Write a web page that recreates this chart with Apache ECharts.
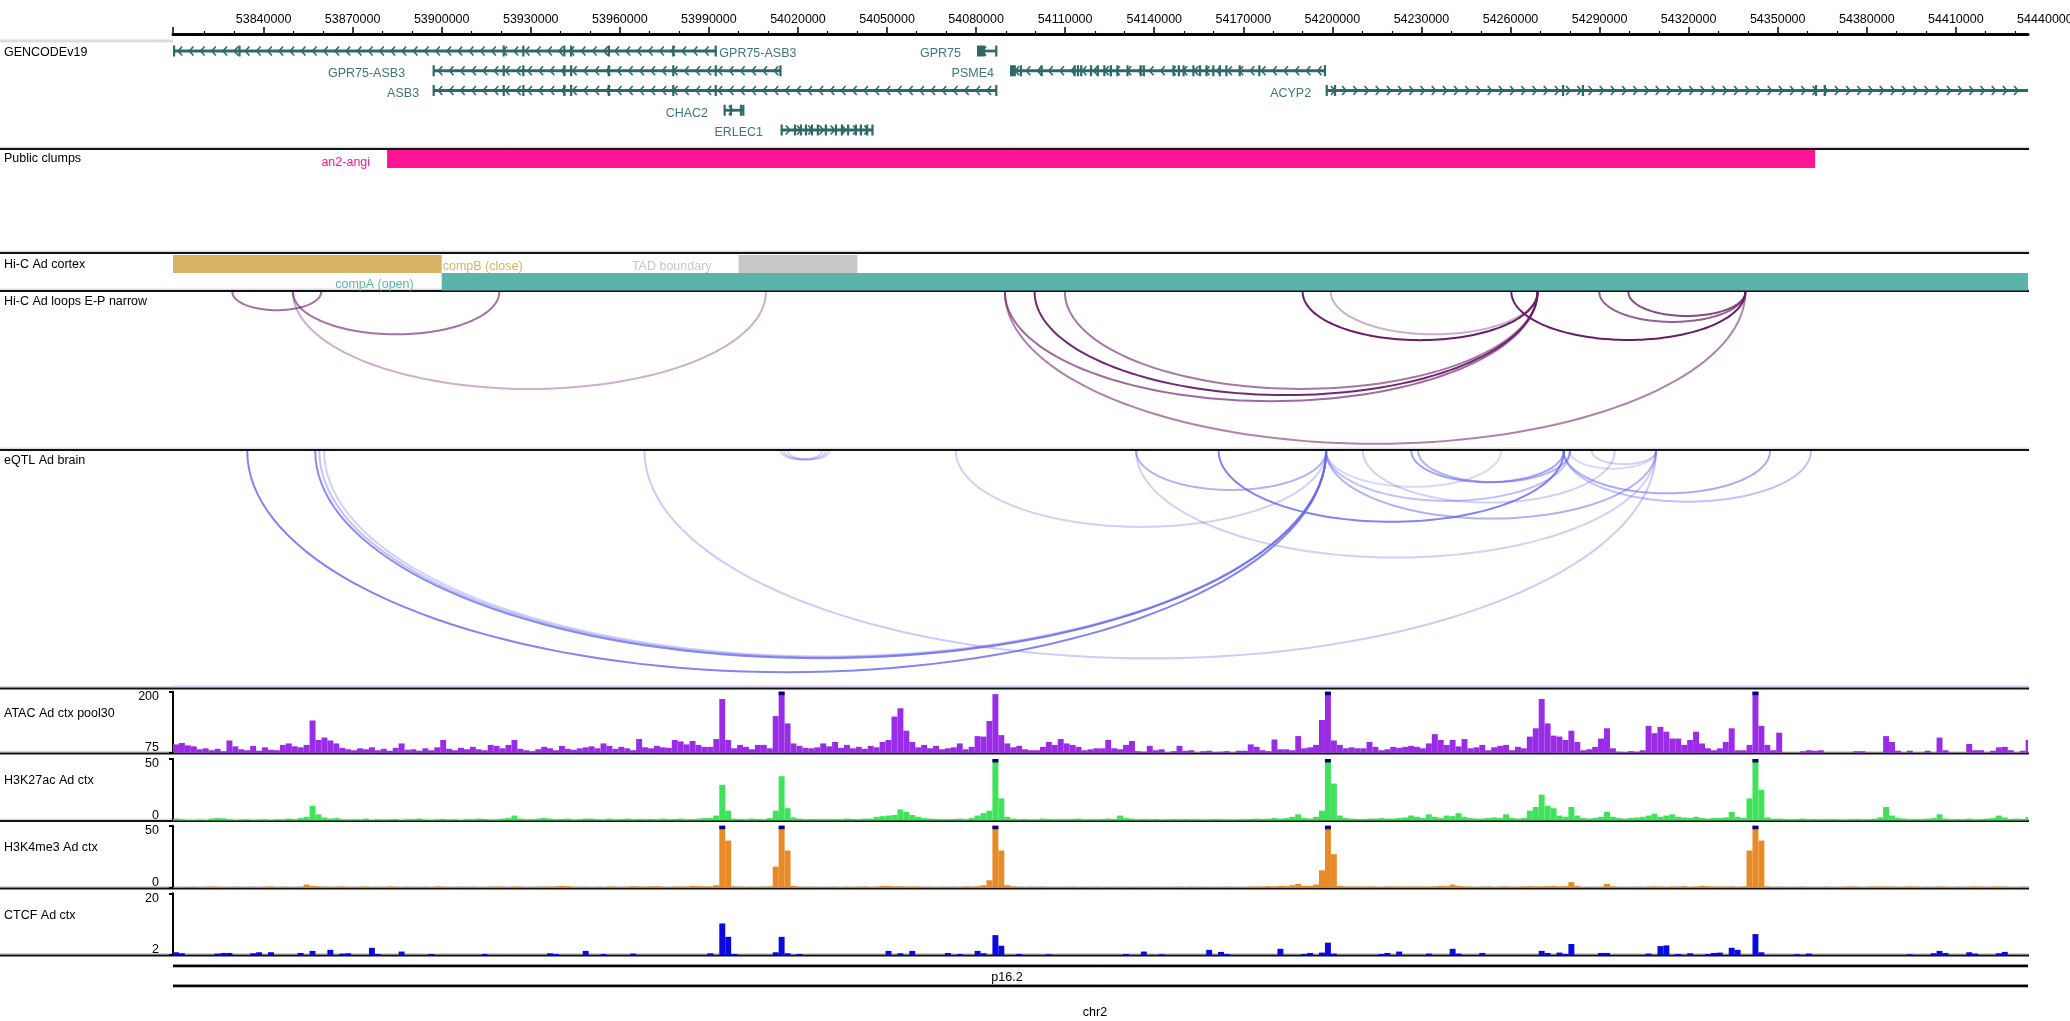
<!DOCTYPE html>
<html><head><meta charset="utf-8">
<script src="https://cdn.jsdelivr.net/npm/echarts@6.0.0/dist/echarts.min.js"></script>
<style>html,body{margin:0;padding:0;background:#fff}#c{width:2070px;height:1021px}</style>
</head><body><div id="c"></div>
<script>
// ---------------- DATA ----------------
const X_MIN = 53809500, X_MAX = 54434300, X_LABEL_MAX = 54440000;
const MAJOR_TICK_LABELS = [53840000,53870000,53900000,53930000,53960000,53990000,54020000,54050000,54080000,54110000,54140000,54170000,54200000,54230000,54260000,54290000,54320000,54350000,54380000,54410000,54440000];

const GENE_NAMES   = ['GPR75-ASB3','GPR75','GPR75-ASB3','PSME4','ASB3','ACYP2','CHAC2','ERLEC1'];
const GENE_STARTS  = [53805000,54080300,53897100,54091400,53897100,54197900,53995100,54014300];
const GENE_ENDS    = [53992500,54087000,54014300,54197700,54087000,54445000,54001800,54045300];
const GENE_ROWS    = [0,0,1,1,2,2,3,4];
const GENE_STRANDS = [-1,-1,-1,-1,-1,1,1,1];
const GENE_EXONS = [
 [[53809600,53810000],[53831700,53832100],[53920700,53921100],[53927300,53927700],[53941100,53941500],[53943400,53943800],[53955900,53956700],[53977800,53978200],[53992100,53992500]],
 [[54080300,54083000],[54086600,54087000]],
 [[53897100,53897500],[53920700,53921100],[53927300,53927700],[53941100,53941500],[53943400,53943800],[53955900,53956700],[53977800,53978200],[53992100,53992500],[54013900,54014300]],
 [[54091400,54093400],[54094900,54095300],[54101900,54102300],[54113000,54113400],[54114100,54114500],[54115200,54115600],[54118500,54118900],[54120800,54121200],[54123000,54123400],[54125200,54125600],[54127400,54127800],[54130800,54131200],[54135200,54135600],[54136300,54136700],[54146300,54146700],[54148100,54148500],[54149700,54150100],[54153000,54153400],[54155200,54155600],[54157400,54157800],[54159700,54160100],[54161900,54162300],[54164100,54164500],[54168600,54169000],[54175200,54175600],[54197300,54197700]],
 [[53897100,53897500],[53920700,53921100],[53927300,53927700],[53941100,53941500],[53943400,53943800],[53955900,53956700],[53977800,53978200],[53992100,53992500],[54086600,54087000]],
 [[54197900,54198300],[54200700,54201100],[54277500,54277900],[54284200,54284600],[54362700,54363100],[54365700,54366100]],
 [[53995100,53995500],[53997200,53997600],[54000600,54001000],[54001400,54001800]],
 [[54014300,54014700],[54018800,54019200],[54020800,54021200],[54022500,54022900],[54024500,54024900],[54026500,54026900],[54029200,54029600],[54032600,54033000],[54034600,54035000],[54036700,54037100],[54039300,54039700],[54041000,54041400],[54043100,54043500],[54044900,54045300]]
];

const CLUMP_NAMES = ['an2-angi'];
const CLUMP_STARTS = [53881600];
const CLUMP_ENDS = [54362600];

const COMP_NAMES = ['compB (close)','compA (open)'];
const COMP_STARTS = [53800000, 53900000];
const COMP_ENDS = [53900000, 54450000];
const TAD_STARTS = [54000000];
const TAD_ENDS = [54040000];

// Hi-C loops: start, end, opacity
const LOOP_STARTS = [53829500,53849900,53849900,54190000,54199500,54260300,54289900,54299700,54089700,54089700,54099700,54109900];
const LOOP_ENDS   = [53859400,53919400,54009200,54269100,54269100,54339100,54339100,54339100,54339100,54269100,54269100,54269100];
const LOOP_ALPHA  = [0.62,0.62,0.35,1.0,0.35,1.0,0.7,0.8,0.55,0.65,0.95,0.6];

// eQTL links: start, end, opacity
const EQTL_STARTS = [53834500,53857400,53858800,53860400,53968300,54014300,54015300,54016600,54073200,54133900,54161700,54226600,54228900,54197900,54197900,54197900,54210300,54133900,54277900,54277900,54287400,54280000];
const EQTL_ENDS   = [54197900,54197900,54197900,54197900,54309000,54028100,54029400,54030500,54197900,54197900,54278000,54277900,54280000,54256800,54280000,54309000,54295100,54309000,54347400,54361200,54309000,54309000];
const EQTL_ALPHA  = [0.8,0.75,0.4,0.3,0.33,0.3,0.3,0.3,0.3,0.5,0.8,0.6,0.5,0.25,0.4,0.5,0.3,0.3,0.55,0.4,0.3,0.25];

// Signal tracks: 2 kb bins from BIN_START
const BIN_START = 53809500, BIN_SIZE = 2000;
const ATAC = [
 92,95,90,88,82,84,80,83,78,100, 88,82,80,89,79,86,81,80,91,94, 88,86,91,141,101,106,100,94,85,82,
 80,84,82,86,80,83,79,85,94,81, 82,79,84,80,86,101,83,80,85,82, 87,82,80,91,89,84,91,101,83,80,
 78,82,87,84,80,89,83,81,84,86, 88,84,94,89,83,87,84,80,103,86, 84,89,86,85,101,98,92,99,91,87,
 87,103,185,101,84,91,87,82,91,91, 84,150,215,135,94,89,85,84,86,94, 88,97,85,91,84,87,83,89,86,97,
 101,149,166,120,97,86,91,84,89,82, 84,86,94,82,87,109,108,140,195,111, 94,86,89,82,80,80,87,97,91,103,
 94,91,87,80,82,84,84,101,84,82, 91,99,78,77,89,80,82,75,78,89, 79,80,75,78,79,76,77,78,75,79,
 79,92,87,80,78,102,82,82,80,109, 84,86,91,142,215,100,91,84,86,84, 84,97,87,80,82,87,85,87,89,87,
 84,94,113,101,91,101,88,103,84,86, 91,80,86,89,91,80,87,84,108,125, 185,135,110,108,101,120,97,80,82,87,
 104,125,84,77,76,78,77,80,130,115, 128,118,104,104,91,101,118,94,84,80, 84,97,125,80,80,91,215,130,91,80,
 116,75,75,75,78,80,79,80,75,75, 75,75,75,78,78,75,75,75,109,97, 79,75,79,75,75,79,75,106,80,75,
 75,75,93,80,80,75,79,86,87,80, 75,79,101];
const H3K27AC = [
 1.5,1,0.5,0.5,0.8,0.5,1.5,2,1.8,1, 0.5,0.8,1,0.5,0.8,1,0.5,1,0.8,1.5, 1,2,3,12,5,2.5,1.5,2,1,0.8,
 1,0.8,1.5,0.5,1,0.8,1,1.2,0.5,1, 1,1.5,0.8,0.5,1,1.2,0.8,1,0.5,1, 1,1.5,1.2,0.8,1,1.5,2,4,1.5,1,
 1,1.5,2,1.5,1,1.2,1.5,0.8,1,1.5, 1.5,1,0.8,1.5,1,1.2,1.5,1,1.2,1, 1.2,1,1.5,1,1.2,1.5,1,1.2,1.5,2,
 2,4,29,8,1.5,1.2,1,1.5,1.2,1, 2,8,36,10,2.5,1.5,1,1.2,1,1, 1,1.2,1,1.5,1.2,1,1.5,1.5,3,3.5,
 4,4.5,9,7,4.5,3,2,1.5,1.2,1, 1,1.2,1.5,1,2,4,6,8,55,18, 3,1.5,1,1.2,0.8,1,1.5,1.2,1,1,
 1,1.2,1.5,1,1.2,1,1.2,1.5,1.2,4, 2,1.5,1,1.2,1,1.2,0.8,1,1.2,1, 1.2,1,1,0.8,1,1.2,1,1,0.8,1,
 1,1.2,1.5,1.2,1.5,2,1.5,2,3,5, 2,1.5,3,8,55,30,4,2,1.5,1.2, 1.2,1.5,1.5,2,1.5,1.5,2,2.5,4,3,
 2,5,3,2,4,3.5,6,3,2,1.5, 1.5,2,2.5,2,5,2,1.5,2,8,11, 21,12,10,4,3,11,4,2,1.5,2,
 3,7,3,2,1.5,2,2.5,3,4,5.5, 3,4,5,3,2.5,2,3,2,1.5,2, 2,2.5,7,3,2,18,55,25,2.5,1.5,
 1.5,1.2,1,1.2,1.5,1,1.2,1,1,1.2, 1,0.8,1,1.2,1,1,1.5,2.5,11,4, 2,1.5,1,1.2,1,1.5,2,5,1.5,1,
 1.2,1,1.5,1,1.2,1.5,2,4,2.5,1.2, 1.5,1.2,3];
const H3K4ME3 = [
 0.5,0.3,0,0,0.5,0.8,1,0.8,0.5,0.5, 0.8,0.5,0.3,0.8,0.5,0.8,1,0.5,0.8,0.5, 0.5,0.8,2.5,1.5,1,0.8,0.5,0.8,1,0.5,
 0.5,0.8,1,0.5,0.8,0.5,1,0.8,0.5,0.8, 0.5,0.3,0.8,0.5,1,0.8,0.5,0.3,0.8,0.5, 0.8,0.5,0.5,0.8,1,0.8,0.5,1,0.8,0.5,
 0.5,0.8,1,0.8,1,1.5,1.2,0.8,0.5,0.8, 0.5,0.8,0.5,1,0.8,0.5,0.8,1.2,1,0.8, 1,1.2,0.8,0.5,1,0.8,1,1.5,1.2,1,
 1,2,55,38,1,0.8,0.5,0.8,0.5,0.8, 1,17,55,30,1.5,0.8,0.5,0.8,0.5,0.3, 0.5,0.8,0.5,0.8,0.5,0.8,1,0.5,0.8,1.5,
 1.5,1,1.2,0.8,1,0.8,0.5,0.8,0.5,0.8, 0.5,0.8,0.5,1,0.8,1.2,2,6,55,30, 2,1,0.8,0.5,0.8,0.5,0.8,0.5,0.3,0.5,
 0.5,0.8,0.5,0.3,0.5,0.8,0.5,0.3,0.5,0.8, 0.5,0.3,0.5,0.8,0.5,0.3,0.5,0.3,0.5,0.8, 0.5,0.8,0.5,0.3,0.5,0.3,0.5,0.8,0.3,0.5,
 0.5,0.8,1,0.8,1.2,1,1.5,1.2,2,3, 1.5,1.5,2.5,14,55,27,1.5,1,0.8,1, 0.8,1,0.8,0.5,1,0.8,1,0.8,1,0.8,
 1,0.8,1,1.5,1.2,2.5,1.5,1,0.8,0.5, 0.8,1,0.5,0.8,1,0.5,0.8,1,1.2,1, 1,1.2,1.5,1,1.2,4.5,1.5,0.5,0.3,0.5,
 0.8,3,1,0.5,0.3,0.5,0.8,0.5,0.8,1, 0.8,0.5,1,0.8,1.2,0.5,1,1.5,1,0.8, 1,0.8,1,0.5,1,30,55,38,1,0.5,
 0.8,0.5,0.3,0.5,0.8,0.5,0.3,0.5,0.8,0.5, 0.5,0.8,1,0.8,0.5,0.8,1,0.8,1,0.8, 0.5,0.8,1,0.8,0.5,0.8,0.5,1,0.8,0.5,
 0.8,0.5,0.8,1,0.8,0.5,0.8,1,0.8,0.5, 0.5,0.8,0.5];
const CTCF = [
 2.8,2.5,2,2,2,2,2,2.4,2.6,2.6, 2,2,2,2.5,2.8,2,2.8,2,2,2, 2,2.6,2,3.2,2,2,3.5,2,2.4,2.5,
 2,2,2,4.1,2.3,2,2,2,3,2, 2,2,2,2.3,2,2,2,2,2,2, 2,2,2.3,2,2,2,2,2,2,2,
 2,2,2,2.5,2.3,2,2,2,2,3.2, 2,2,2.3,2,2,2,2,2.4,2,2, 2,2,2,2,2,2,2,2,2,2,
 2.5,2,11.2,7.3,2.3,2,2,2,2,2, 2,2.8,7.3,2.5,2,2.3,2,2,2,2, 2,2,2,2,2,2,2,2,2,2,
 3.2,2,2.5,2,3.2,2,2,2,2,2, 2.6,2,2.3,2,2,3.2,2.5,2,7.8,4.7, 2,2,2.3,2,2,2,2,2.2,2,2,
 2,2,2,2,2,2,2,2,2,2, 2.3,2,2,3,2,2,2.2,2,2,2, 2,2,2,2,3.5,2,2.9,2.3,2,2,
 2,2,2,2,2,2,3.8,2,2,2, 2.3,2.6,2,2.7,5.6,2.4,2,2,2,2, 2,2,2,2.3,2.6,2,3,2,2,2,
 2,2.4,2,2,2,3.8,2.4,2,2,2, 2.6,2,2,2,2,2,2,2,2,2, 3.2,2.6,2,2.7,2.3,5.2,2,2,2,2,
 2.6,2.6,2,2,2,2,2,2,2.4,2, 4.6,4.8,2,2.3,2,2.5,2,2,2.3,2.6, 2.7,2,4.1,3.5,2,2,8.1,2.8,2,2,
 2,2,2,2.2,2,2.4,2,2,2,2, 2,2,2,2,2,2,2,2,2,2, 2,2,2.2,2,2,2,2.5,3.2,2.6,2,
 2,2,2.8,2.4,2,2,2,2.5,2.9,2, 2,2,2];

const TRACK_LABELS = ['GENCODEv19','Public clumps','Hi-C Ad cortex','Hi-C Ad loops E-P narrow','eQTL Ad brain','ATAC Ad ctx pool30','H3K27ac Ad ctx','H3K4me3 Ad ctx','CTCF Ad ctx'];
const BAND_NAME = 'p16.2', CHROM_NAME = 'chr2';

// ---------------- STYLE / LAYOUT ----------------
const FONT = '12.5px "Liberation Sans", Arial, Helvetica, sans-serif';
const L = 173, W = 1855, RIGHT = L + W;
const TRACK_LABEL_Y = [53,159,265,302,461,714,780.5,848,916];
const SEPARATORS = [149,253,291,450,688.5,753.5,821,888.5,955.5];
const GENE_COLOR = '#2f6868', GENE_LABEL = '#3e7777';
const GENE_LABEL_GAP = [3,16,28,16,14,15,16,18];
const ARC_RATIO = 0.205;

const GRIDS = [
 {top:34, height:1},                        // 0 axis line + major ticks
 {top:34, height:1},                        // 1 minor ticks
 {top:34, height:1, wide:true},             // 2 labels
 {top:42, height:107},                      // 3 genes
 {top:149, height:104},                     // 4 clumps
 {top:253, height:38},                      // 5 hic
 {top:291, height:159},                     // 6 loops
 {top:450, height:238},                     // 7 eqtl
 {top:691.7, height:61},                    // 8 atac
 {top:759, height:61.5},                    // 9 k27
 {top:825.7, height:62},                    // 10 k4
 {top:893.3, height:61.7}                   // 11 ctcf
];
const grid = GRIDS.map(g => ({
  left: L, top: g.top, height: g.height,
  width: g.wide ? W * (X_LABEL_MAX - X_MIN) / (X_MAX - X_MIN) : W,
  containLabel: false, outerBoundsMode: 'none', show: false
}));

const minorTicks = [];
for (let v = 53810000; v < X_MAX; v += 10000) if ((v - 53840000) % 30000 !== 0) minorTicks.push(v);

const xAxis = GRIDS.map((g, i) => ({
  gridIndex: i, type: 'value', min: X_MIN, max: g.wide ? X_LABEL_MAX : X_MAX,
  show: i <= 2, position: 'top', splitLine: {show: false},
  axisLine: {show: i === 0, lineStyle: {color: '#000', width: 3}},
  axisTick: i === 0 ? {show: true, customValues: [X_MIN].concat(MAJOR_TICK_LABELS.filter(v => v <= X_MAX)), length: 7, lineStyle: {color: '#000', width: 1.5}}
          : i === 1 ? {show: true, customValues: minorTicks, length: 3, lineStyle: {color: '#000', width: 1.2}}
          : {show: false},
  axisLabel: i === 2 ? {show: true, customValues: MAJOR_TICK_LABELS, margin: 8, color: '#000', fontSize: 12.5,
      fontFamily: '"Liberation Sans", Arial, sans-serif', formatter: v => String(Math.round(v))} : {show: false}
}));

function sigAxis(i, mn, mx) {
  return {gridIndex: i, type: 'value', min: mn, max: mx, interval: mx - mn, position: 'left',
    axisLine: {show: true, lineStyle: {color: '#000', width: 2}},
    axisTick: {show: true, customValues: [mn, mx], length: 4, lineStyle: {color: '#000', width: 2}},
    axisLabel: {show: true, customValues: [mn, mx], margin: 14, color: '#000', fontSize: 12.5,
      fontFamily: '"Liberation Sans", Arial, sans-serif', lineHeight: 10,
      verticalAlignMinLabel: 'bottom', verticalAlignMaxLabel: 'top', formatter: v => String(v)},
    splitLine: {show: false}};
}
const yAxis = GRIDS.map((g, i) => {
  if (i === 3) return {gridIndex: i, type: 'value', min: -0.456, max: 4.962, inverse: true, show: false};
  if (i === 8) return sigAxis(i, 75, 200);
  if (i === 9) return sigAxis(i, 0, 50);
  if (i === 10) return sigAxis(i, 0, 50);
  if (i === 11) return sigAxis(i, 2, 20);
  return {gridIndex: i, type: 'value', min: 0, max: g.height, inverse: true, show: false};
});

function txt(text, x, y, color, align) {
  return {type: 'text', style: {text: text, x: x, y: y, fill: color, font: FONT,
    align: align, textAlign: align, verticalAlign: 'middle', textVerticalAlign: 'middle'}};
}

// genes
function renderGene(params, api) {
  const i = params.dataIndex, cs = params.coordSys;
  const p1 = api.coord([api.value(0), api.value(2)]);
  const p2 = api.coord([api.value(1), api.value(2)]);
  const x1 = Math.max(p1[0], cs.x), x2 = Math.min(p2[0], cs.x + cs.width), y = p1[1];
  const ch = [{type: 'rect', shape: {x: x1, y: y - 1.4, width: x2 - x1, height: 2.8}, style: {fill: GENE_COLOR}}];
  const dir = GENE_STRANDS[i];
  for (let x = x1 + 7; x < x2 - 3; x += 11.2) {
    const pts = dir < 0 ? [[x + 2.2, y - 4.5], [x - 1.8, y], [x + 2.2, y + 4.5]] : [[x - 2.2, y - 4.5], [x + 1.8, y], [x - 2.2, y + 4.5]];
    ch.push({type: 'polyline', shape: {points: pts}, style: {stroke: GENE_COLOR, lineWidth: 1.6, fill: null}});
  }
  GENE_EXONS[i].forEach(e => {
    const a = api.coord([e[0], 0])[0], b = api.coord([e[1], 0])[0];
    if (b < cs.x - 2 || a > cs.x + cs.width + 2) return;
    const w = Math.max(2.2, b - a), xc = (a + b) / 2;
    ch.push({type: 'rect', shape: {x: Math.max(cs.x, xc - w / 2), y: y - 5.5, width: w, height: 11}, style: {fill: GENE_COLOR}});
  });
  if (p1[0] - cs.x < 40) ch.push(txt(GENE_NAMES[i], x2 + GENE_LABEL_GAP[i], y + 3, GENE_LABEL, 'left'));
  else ch.push(txt(GENE_NAMES[i], x1 - GENE_LABEL_GAP[i], y + 3, GENE_LABEL, 'right'));
  return {type: 'group', children: ch};
}

function renderClump(params, api) {
  const cs = params.coordSys;
  const a = api.coord([api.value(0), 0]), b = api.coord([api.value(1), 0]);
  const x1 = Math.max(a[0], cs.x), x2 = Math.min(b[0], cs.x + cs.width);
  return {type: 'group', children: [
    {type: 'rect', shape: {x: x1, y: cs.y + 1, width: x2 - x1, height: 18}, style: {fill: '#ff1493'}},
    txt(CLUMP_NAMES[params.dataIndex], x1 - 17, cs.y + 13.5, '#ff1493', 'right')]};
}

function renderComp(params, api) {
  const cs = params.coordSys, i = params.dataIndex;
  const a = api.coord([api.value(0), 0]), b = api.coord([api.value(1), 0]);
  const x1 = Math.max(a[0], cs.x), x2 = Math.min(b[0], cs.x + cs.width);
  if (i === 0) return {type: 'group', children: [
    {type: 'rect', shape: {x: x1, y: cs.y + 2, width: x2 - x1, height: 18}, style: {fill: '#d8b365'}},
    txt(COMP_NAMES[i], x2 + 1, cs.y + 14, '#d8b365', 'left')]};
  return {type: 'group', children: [
    {type: 'rect', shape: {x: x1, y: cs.y + 20, width: x2 - x1, height: 17.5}, style: {fill: '#5ab4ac'}},
    txt(COMP_NAMES[i], x1 - 28, cs.y + 32, '#5ab4ac', 'right')]};
}
function renderTad(params, api) {
  const cs = params.coordSys;
  const a = api.coord([api.value(0), 0]), b = api.coord([api.value(1), 0]);
  return {type: 'group', children: [
    {type: 'rect', shape: {x: a[0], y: cs.y + 2, width: b[0] - a[0], height: 18}, style: {fill: '#c8c8c8'}},
    txt('TAD boundary', a[0] - 27, cs.y + 14, '#c8c8c8', 'right')]};
}

function arcRender(rgb) {
  return function (params, api) {
    const p1 = api.coord([api.value(0), 0]), p2 = api.coord([api.value(1), 0]);
    const al = api.value(2);
    const cx = (p1[0] + p2[0]) / 2, r = (p2[0] - p1[0]) / 2, d = (p2[0] - p1[0]) * ARC_RATIO;
    const pts = [];
    for (let k = 0; k <= 80; k++) { const t = Math.PI * k / 80; pts.push([cx - r * Math.cos(t), p1[1] + 1 + d * Math.sin(t)]); }
    return {type: 'polyline', shape: {points: pts}, style: {stroke: 'rgba(' + rgb + ',' + al + ')', lineWidth: 2, fill: null}};
  };
}

function sigRender(color, mn, mx) {
  return function (params, api) {
    const v = api.value(2);
    if (v <= mn) return null;
    const cs = params.coordSys, vv = Math.min(v, mx);
    const p0 = api.coord([api.value(0), mn]), p1 = api.coord([api.value(1), vv]);
    const x0 = Math.max(p0[0], cs.x), x1 = Math.min(p1[0], cs.x + cs.width);
    if (x1 <= x0) return null;
    const ch = [{type: 'rect', shape: {x: x0, y: p1[1], width: x1 - x0, height: p0[1] - p1[1]}, style: {fill: color}}];
    if (v > mx) ch.push({type: 'rect', shape: {x: x0, y: p1[1], width: x1 - x0, height: 3.5}, style: {fill: '#000080'}});
    return {type: 'group', children: ch};
  };
}
function bins(arr) { return arr.map((v, i) => [BIN_START + i * BIN_SIZE, BIN_START + (i + 1) * BIN_SIZE, v]); }

const series = [
  {type: 'custom', xAxisIndex: 3, yAxisIndex: 3, renderItem: renderGene, encode: {x: [0, 1], y: 2},
   data: GENE_NAMES.map((n, i) => [GENE_STARTS[i], GENE_ENDS[i], GENE_ROWS[i]])},
  {type: 'custom', xAxisIndex: 4, yAxisIndex: 4, renderItem: renderClump, encode: {x: [0, 1]},
   data: CLUMP_NAMES.map((n, i) => [CLUMP_STARTS[i], CLUMP_ENDS[i]])},
  {type: 'custom', xAxisIndex: 5, yAxisIndex: 5, renderItem: renderComp, encode: {x: [0, 1]},
   data: COMP_NAMES.map((n, i) => [COMP_STARTS[i], COMP_ENDS[i]])},
  {type: 'custom', xAxisIndex: 5, yAxisIndex: 5, renderItem: renderTad, encode: {x: [0, 1]},
   data: TAD_STARTS.map((s, i) => [s, TAD_ENDS[i]])},
  {type: 'custom', xAxisIndex: 6, yAxisIndex: 6, renderItem: arcRender('106,27,106'), encode: {x: [0, 1]},
   data: LOOP_STARTS.map((s, i) => [s, LOOP_ENDS[i], LOOP_ALPHA[i]])},
  {type: 'custom', xAxisIndex: 7, yAxisIndex: 7, renderItem: arcRender('100,100,240'), encode: {x: [0, 1]},
   data: EQTL_STARTS.map((s, i) => [s, EQTL_ENDS[i], EQTL_ALPHA[i]])},
  {type: 'custom', xAxisIndex: 8, yAxisIndex: 8, renderItem: sigRender('#9a2be6', 75, 200), encode: {x: [0, 1], y: 2}, data: bins(ATAC)},
  {type: 'custom', xAxisIndex: 9, yAxisIndex: 9, renderItem: sigRender('#3ee35a', 0, 50), encode: {x: [0, 1], y: 2}, data: bins(H3K27AC)},
  {type: 'custom', xAxisIndex: 10, yAxisIndex: 10, renderItem: sigRender('#e88a25', 0, 50), encode: {x: [0, 1], y: 2}, data: bins(H3K4ME3)},
  {type: 'custom', xAxisIndex: 11, yAxisIndex: 11, renderItem: sigRender('#0a0ae0', 2, 20), encode: {x: [0, 1], y: 2}, data: bins(CTCF)}
];

const graphic = [];
graphic.push({type: 'line', shape: {x1: 0, y1: 41, x2: L, y2: 41}, style: {stroke: '#dddddd', lineWidth: 3}});
SEPARATORS.forEach(y => {
  graphic.push({type: 'line', shape: {x1: 0, y1: y - 1.8, x2: RIGHT + 1, y2: y - 1.8}, style: {stroke: '#cccccc', lineWidth: 1}});
  graphic.push({type: 'line', shape: {x1: 0, y1: y, x2: RIGHT + 1, y2: y}, style: {stroke: '#111111', lineWidth: 2}});
});
graphic.push({type: 'line', shape: {x1: L, y1: 686.3, x2: RIGHT, y2: 686.3}, style: {stroke: '#dccdf2', lineWidth: 1.5}});
TRACK_LABELS.forEach((t, i) => graphic.push({type: 'text', x: 4, y: TRACK_LABEL_Y[i],
  style: {text: t, font: FONT, fill: '#000', verticalAlign: 'middle', textVerticalAlign: 'middle'}}));
[966, 986].forEach(y => {
  graphic.push({type: 'line', shape: {x1: L, y1: y - 1.5, x2: RIGHT, y2: y - 1.5}, style: {stroke: '#bbbbbb', lineWidth: 1}});
  graphic.push({type: 'line', shape: {x1: L, y1: y, x2: RIGHT, y2: y}, style: {stroke: '#000', lineWidth: 2.5}});
});
graphic.push({type: 'text', x: 1007, y: 977.5, style: {text: BAND_NAME, font: FONT, fill: '#000', align: 'center', textAlign: 'center', verticalAlign: 'middle', textVerticalAlign: 'middle'}});
graphic.push({type: 'text', x: 1095, y: 1012.5, style: {text: CHROM_NAME, font: FONT, fill: '#000', align: 'center', textAlign: 'center', verticalAlign: 'middle', textVerticalAlign: 'middle'}});

const chart = echarts.init(document.getElementById('c'), null, {renderer: 'canvas', width: 2070, height: 1021});
chart.setOption({animation: false, backgroundColor: '#fff', grid: grid, xAxis: xAxis, yAxis: yAxis, series: series, graphic: graphic});
</script></body></html>
